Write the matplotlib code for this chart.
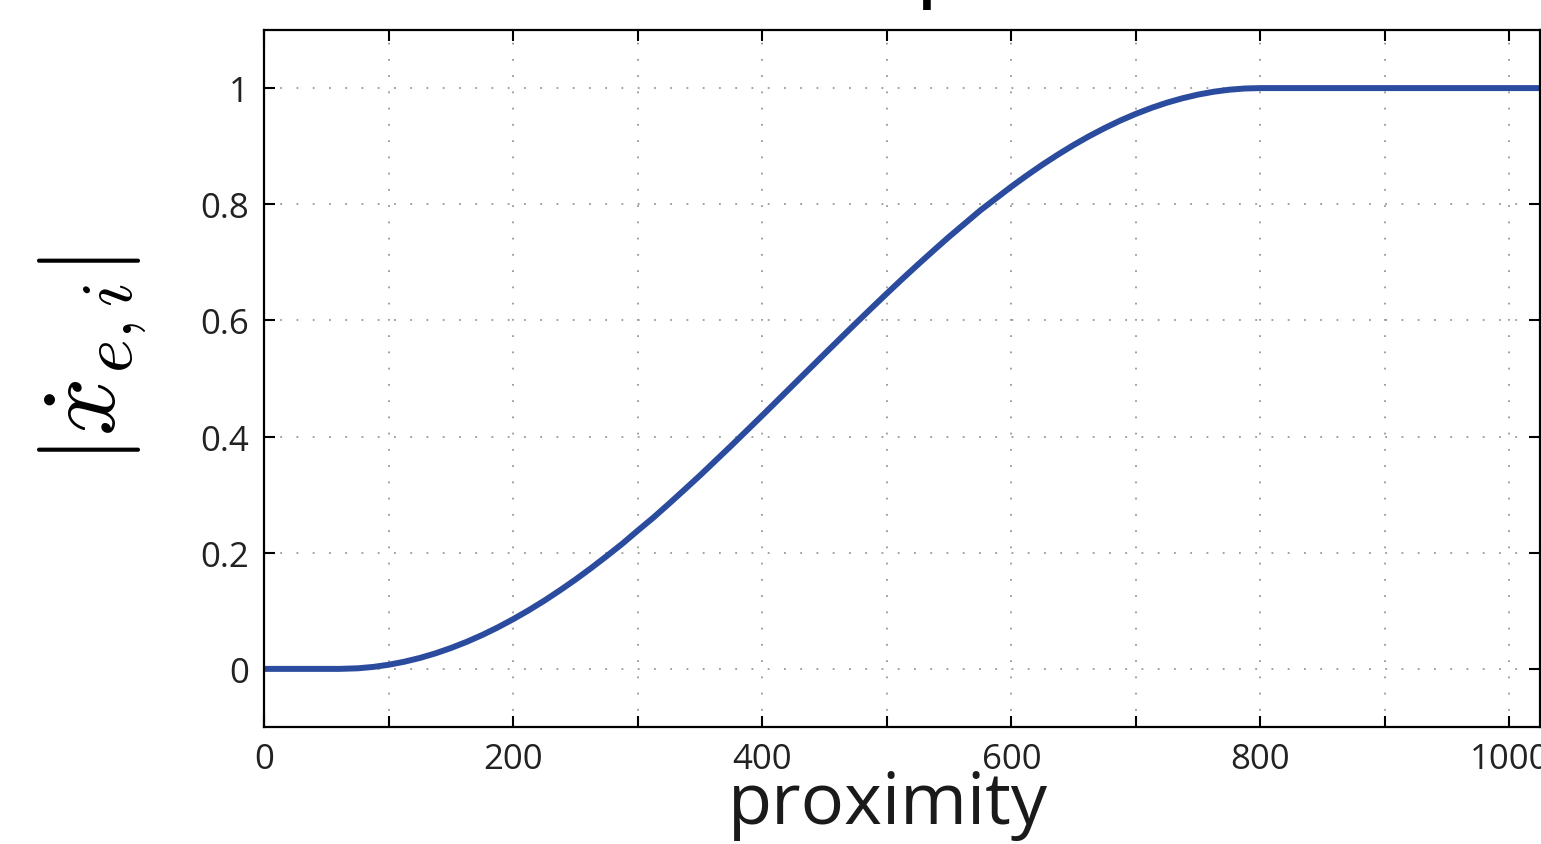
import matplotlib
matplotlib.use('Agg')
import matplotlib.pyplot as plt

# Values: speed magnitude vs proximity
proximity = [0, 25, 50, 60, 75, 87.5, 100, 112.5, 125, 137.5, 150, 162.5,
             175, 187.5, 200, 212.5, 225, 237.5, 250, 262.5, 275, 287.5, 300,
             312.5, 325, 337.5, 350, 362.5, 375, 387.5, 400, 412.5, 425,
             437.5, 450, 462.5, 475, 487.5, 500, 512.5, 525, 537.5, 550,
             562.5, 575, 587.5, 600, 612.5, 625, 637.5, 650, 662.5, 675,
             687.5, 700, 712.5, 725, 737.5, 750, 762.5, 775, 787.5, 800,
             850, 900, 950, 1000, 1025]
speed = [0, 0, 0, 0, 0.001, 0.0034, 0.0072, 0.0124, 0.0189, 0.0268, 0.0361,
         0.0466, 0.0584, 0.0715, 0.0858, 0.1012, 0.1177, 0.1354, 0.1540,
         0.1737, 0.1943, 0.2155, 0.2383, 0.2606, 0.2844, 0.3087, 0.3333,
         0.3588, 0.3843, 0.4104, 0.4365, 0.4629, 0.4894, 0.5159, 0.5424,
         0.5687, 0.5949, 0.6208, 0.6464, 0.6716, 0.6962, 0.7203, 0.7440,
         0.7666, 0.7893, 0.8098, 0.8303, 0.8497, 0.8682, 0.8856, 0.9020,
         0.9172, 0.9312, 0.9441, 0.9556, 0.9659, 0.9749, 0.9825, 0.9888,
         0.9937, 0.9972, 0.9993, 1.0, 1.0, 1.0, 1.0, 1.0, 1.0]

x_ticks = list(range(0, 1001, 100))
x_labels = ['0', '', '200', '', '400', '', '600', '', '800', '', '1000']
y_ticks = [0, 0.2, 0.4, 0.6, 0.8, 1.0]
y_labels = ['0', '0.2', '0.4', '0.6', '0.8', '1']

plt.rcParams['font.family'] = ['Open Sans', 'DejaVu Sans']
plt.rcParams['mathtext.fontset'] = 'cm'

fig = plt.figure(figsize=(15.41, 8.45), dpi=100)
ax = fig.add_axes([0.1716, 0.1385, 0.8280, 0.8248])

ax.plot(proximity, speed, color='#2b4c9e', linewidth=4.3,
        solid_capstyle='butt', solid_joinstyle='round')

ax.set_xlim(0, 1025)
ax.set_ylim(-0.1, 1.1)
ax.set_xticks(x_ticks)
ax.set_xticklabels(x_labels)
ax.set_yticks(y_ticks)
ax.set_yticklabels(y_labels)

ax.grid(True, linestyle=(0, (1, 8)), color='#999999', linewidth=1.3)
ax.tick_params(direction='in', length=8, width=1.5, top=True, right=True,
               labelsize=25, labelcolor='#222222', pad=11)
for spine in ax.spines.values():
    spine.set_linewidth(1.6)

ax.set_xlabel('proximity', fontsize=52, color='#1a1a1a')
ax.xaxis.set_label_coords(0.489, -0.060)
ax.set_ylabel(r'$|\dot{x}_{e,i}|$', fontsize=74)
ax.yaxis.set_label_coords(-0.091, 0.527)

# title sits mostly above the cropped top edge
fig.text(0.607, 1.003, 'p', fontsize=38, fontweight='bold', ha='center',
         va='baseline')

fig.savefig('out.png', dpi=100)
